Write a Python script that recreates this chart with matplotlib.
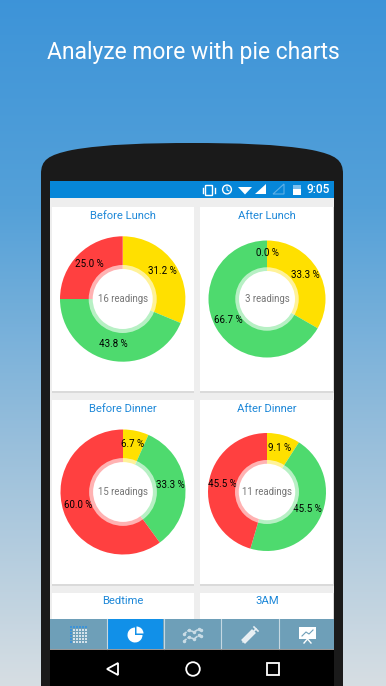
import matplotlib
matplotlib.use('Agg')
import matplotlib.pyplot as plt
import numpy as np
from matplotlib.patches import Circle, FancyBboxPatch, PathPatch, Polygon, Rectangle, Wedge
from matplotlib.path import Path

plt.rcParams['font.family'] = ['Roboto', 'DejaVu Sans']

W, H = 386, 686

headline = 'Analyze more with pie charts'
titles = ['Before Lunch', 'After Lunch', 'Before Dinner', 'After Dinner']
more_titles = ['Bedtime', '3AM']
# yellow, green, red
counts = [[5, 7, 4], [1, 2, 0], [1, 5, 9], [1, 5, 5]]
colors = ['#FFE000', '#4EDA6E', '#FF4040']
clock = '9:05'

fig = plt.figure(figsize=(W / 100, H / 100), dpi=100)
ax = fig.add_axes([0, 0, 1, 1])
ax.set_xlim(0, W)
ax.set_ylim(H, 0)
ax.axis('off')

# background
grad = np.linspace(0, 1, 256)
stops = np.array([[0.24, 0.58, 0.85], [0.33, 0.63, 0.85], [0.60, 0.75, 0.86], [0.84, 0.87, 0.89]])
img = np.stack([np.interp(grad, [0, 0.3, 0.65, 1], stops[:, i]) for i in range(3)], axis=1)
ax.imshow(img[:, None, :], extent=[0, W, H, 0], aspect='auto', zorder=0)
ax.text(193, 52, headline, color='white', fontsize=16.5, ha='center', va='center')

# phone
verts = [(41, 686), (41, 174), (41, 160), (48, 155), (72, 150), (105, 144), (150, 143), (192, 143),
         (234, 143), (279, 144), (312, 150), (336, 155), (343, 160), (343, 174), (343, 686), (41, 686)]
codes = [Path.MOVETO, Path.LINETO] + [Path.CURVE4] * 12 + [Path.LINETO, Path.CLOSEPOLY]
ax.add_patch(PathPatch(Path(verts, codes), fc='#1A1A1A', ec='none', zorder=1))
ax.add_patch(Rectangle((50, 181), 284, 469, fc='#EEEEEE', ec='none', zorder=2))
ax.add_patch(Rectangle((50, 181), 284, 17, fc='#0686D8', ec='none', zorder=3))
ax.add_patch(Rectangle((50, 650), 284, 36, fc='black', ec='none', zorder=3))

# status bar
ax.add_patch(FancyBboxPatch((206, 186), 6, 9, boxstyle='round,pad=0.5', fc='none', ec='white', lw=1, zorder=4))
ax.plot([203, 203], [188, 193], color='white', lw=1, zorder=4)
ax.plot([215, 215], [188, 193], color='white', lw=1, zorder=4)
ax.add_patch(Circle((227, 189.5), 4.4, fc='none', ec='white', lw=1, zorder=4))
ax.plot([227, 227, 229], [187, 190, 191], color='white', lw=0.7, zorder=4)
ax.add_patch(Polygon([(238, 187), (252, 187), (245, 194.5)], fc='white', ec='none', zorder=4))
ax.add_patch(Polygon([(255, 194), (266, 194), (266, 184)], fc='white', ec='none', zorder=4))
ax.add_patch(Polygon([(273, 194), (284, 194), (284, 184)], fc='none', ec='#5FB0E6', lw=0.8, zorder=4))
ax.add_patch(Rectangle((293, 189), 8, 6, fc='white', ec='none', zorder=4))
ax.add_patch(Rectangle((293, 185), 8, 4, fc='#7FC0EE', ec='none', zorder=4))
ax.text(318, 189.5, clock, color='white', fontsize=8.5, fontweight='medium', ha='center', va='center', zorder=4)

# cards
card_x = [(52, 193.5), (200, 333)]
card_y = [(207, 391), (400, 584), (593, 625)]
for y0, y1 in card_y:
    for x0, x1 in card_x:
        ax.add_patch(Rectangle((x0 - 0.5, y0 - 0.5), x1 - x0 + 1, y1 - y0 + 2, fc='#DADADA', ec='none', zorder=3))
        ax.add_patch(Rectangle((x0, y0), x1 - x0, y1 - y0, fc='white', ec='none', zorder=3.1))

title_pos = [(123, 216), (267, 216), (123, 409), (267, 409)]
for t, (x, y) in zip(titles, title_pos):
    ax.text(x, y, t, color='#1E88D8', fontsize=8.1, ha='center', va='center', zorder=4)
for t, x in zip(more_titles, [123, 267]):
    ax.text(x, 601.5, t, color='#1E88D8', fontsize=8.1, ha='center', va='center', zorder=4)

# tab bar
ax.add_patch(Rectangle((50, 619), 284, 31, fc='#6E9FB8', ec='none', zorder=5))
ax.add_patch(Rectangle((107.5, 619), 55.5, 30, fc='#1190E8', ec='none', zorder=5.1))
for x in [106.7, 163.7, 221, 278.5]:
    ax.plot([x, x], [619, 649], color='#C5D8E2', lw=0.8, zorder=5.2)
ax.add_patch(Rectangle((50, 649), 284, 1.2, fc='#999999', ec='none', zorder=5.2))

# calendar icon
for i in range(6):
    for j in range(6):
        c = '#3D93D8' if i == 0 or j == 0 else '#D5E3EC'
        ax.add_patch(Rectangle((69.5 + i * 3, 625.5 + j * 3), 2.8, 2.8, fc=c, ec='none', zorder=6))
# pie icon
ax.add_patch(Wedge((135, 635), 7.5, 0, 270, fc='white', ec='none', zorder=6))
ax.add_patch(Wedge((136.5, 633.5), 7, 270, 360, fc='white', ec='none', zorder=6))
# line chart icon
ax.plot([184, 189, 194, 199, 201], [634, 630, 632, 629, 630], color='#C9DCE6', lw=1.2, ls=(0, (2, 0.6)), marker='o', ms=1.5, zorder=6)
ax.plot([184, 189, 194, 199, 201], [641, 637, 639, 635, 636], color='#C9DCE6', lw=1.2, ls=(0, (2, 0.6)), marker='o', ms=1.5, zorder=6)
# syringe icon
ax.plot([245, 252], [640, 633], color='#E8EFF3', lw=4, zorder=6)
ax.plot([245, 243], [640, 642], color='#E8EFF3', lw=1, zorder=6)
ax.plot([252, 256], [633, 629], color='#E8EFF3', lw=1.2, zorder=6)
ax.plot([254, 258], [627, 631], color='#E8EFF3', lw=1.2, zorder=6)
# board icon
ax.add_patch(Rectangle((299, 627), 17, 12, fc='white', ec='none', zorder=6))
ax.plot([302, 306, 309, 313], [636, 632, 634, 630], color='#6E9FB8', lw=0.8, zorder=7)
ax.plot([307.5, 304], [639, 643], color='white', lw=1, zorder=6)
ax.plot([307.5, 311], [639, 643], color='white', lw=1, zorder=6)

# nav bar
ax.add_patch(Polygon([(118, 663), (107, 669), (118, 675)], closed=True, fc='none', ec='white', lw=1.3, zorder=6))
ax.add_patch(Circle((193, 669), 6.8, fc='none', ec='white', lw=1.3, zorder=6))
ax.add_patch(Rectangle((267, 663), 12, 12, fc='none', ec='white', lw=1.3, zorder=6))

# pies
centers = [(122.7, 299), (267, 299), (123, 492), (267, 492)]
radii = [62.7, 58.5, 62.5, 59]
for vals, (cx, cy), r in zip(counts, centers, radii):
    pax = fig.add_axes([(cx - r) / W, 1 - (cy + r) / H, 2 * r / W, 2 * r / H])
    res = pax.pie(vals, colors=colors, startangle=90, counterclock=False, radius=1,
                  autopct='%.1f %%', pctdistance=0.76,
                  wedgeprops={'width': 0.7, 'linewidth': 0},
                  textprops={'fontsize': 7, 'color': 'black'})
    for tx in res[2]:
        tx.set_y(tx.get_position()[1] + 0.025)
    pax.add_patch(Circle((0, 0), 34 / 62.7, fc='white', alpha=0.6, ec='none', zorder=5))
    pax.add_patch(Circle((0, 0), 30 / 62.7, fc='white', ec='none', zorder=6))
    pax.text(0, 0, '%d readings' % sum(vals), color='#757575', fontsize=6.9, ha='center', va='center', zorder=7)
    pax.set_xlim(-1, 1)
    pax.set_ylim(-1, 1)

fig.savefig('out.png', dpi=100)
